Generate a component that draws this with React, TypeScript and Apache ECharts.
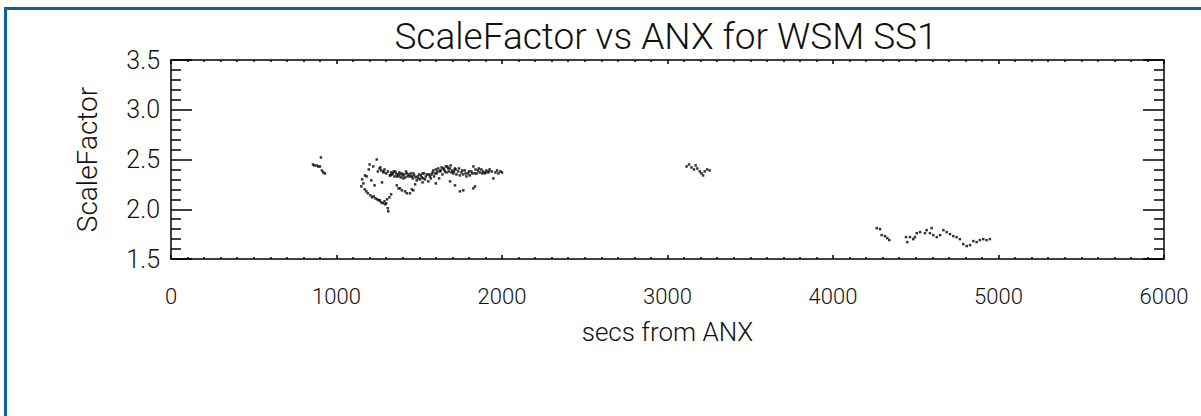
import React, { useEffect, useRef } from "react";
import * as echarts from "echarts";

const titleText = "ScaleFactor vs ANX for WSM SS1";
const xName = "secs from ANX";
const yName = "ScaleFactor";
const xTicks = [0, 1000, 2000, 3000, 4000, 5000, 6000];
const yTicks = [1.5, 2.0, 2.5, 3.0, 3.5];

const clusterA: number[][] = [
  [858, 2.45], [866, 2.44], [880, 2.44], [890, 2.43], [900, 2.43], [906, 2.52], [912, 2.39], [920, 2.37], [930, 2.36],
];

const clusterB: number[][] = [
  [1150, 2.23], [1155, 2.3], [1162, 2.26], [1170, 2.2], [1172, 2.34], [1180, 2.18], [1182, 2.33], [1190, 2.16],
  [1195, 2.4], [1200, 2.45], [1205, 2.14], [1210, 2.29], [1215, 2.12], [1222, 2.43], [1225, 2.13], [1230, 2.24],
  [1235, 2.11], [1243, 2.5], [1245, 2.1], [1250, 2.38], [1255, 2.09], [1260, 2.41], [1262, 2.09], [1270, 2.07],
  [1275, 2.27], [1280, 2.06], [1285, 2.37], [1290, 2.08], [1295, 2.05], [1300, 2.06], [1305, 2.1], [1310, 2.01],
  [1313, 1.98], [1320, 2.12], [1325, 2.34], [1330, 2.15],
  [1265, 2.42], [1270, 2.39], [1283, 2.38], [1290, 2.4], [1300, 2.36], [1310, 2.38], [1323, 2.34], [1330, 2.37],
  [1340, 2.36], [1350, 2.33], [1355, 2.38], [1364, 2.33], [1370, 2.35], [1380, 2.37], [1390, 2.32], [1395, 2.36],
  [1404, 2.31], [1410, 2.35], [1420, 2.38], [1430, 2.33], [1444, 2.33], [1450, 2.36], [1460, 2.31], [1470, 2.34],
  [1485, 2.29], [1490, 2.33], [1500, 2.35], [1505, 2.3], [1515, 2.32], [1525, 2.31], [1530, 2.36], [1540, 2.33],
  [1555, 2.28], [1560, 2.35], [1570, 2.31], [1580, 2.37], [1590, 2.33], [1600, 2.4], [1605, 2.36], [1615, 2.41],
  [1620, 2.31], [1625, 2.38], [1635, 2.42], [1640, 2.35], [1650, 2.4], [1660, 2.43], [1665, 2.37], [1675, 2.41],
  [1680, 2.38], [1690, 2.44], [1700, 2.39], [1706, 2.36], [1715, 2.41], [1725, 2.35], [1735, 2.38], [1745, 2.34],
  [1755, 2.37], [1765, 2.35], [1775, 2.39], [1785, 2.33], [1795, 2.36], [1805, 2.34], [1815, 2.38], [1827, 2.43],
  [1835, 2.36], [1847, 2.36], [1855, 2.39], [1865, 2.37], [1875, 2.4], [1885, 2.38], [1895, 2.36], [1905, 2.39],
  [1915, 2.37], [1925, 2.4], [1938, 2.38], [1948, 2.31], [1960, 2.37], [1970, 2.39], [1978, 2.36], [1990, 2.38],
  [2000, 2.37],
  [1364, 2.24], [1375, 2.21], [1384, 2.21], [1395, 2.19], [1414, 2.18], [1425, 2.16], [1444, 2.16], [1455, 2.2],
  [1464, 2.19], [1475, 2.25], [1686, 2.28], [1716, 2.24], [1746, 2.18], [1766, 2.19], [1827, 2.21], [1837, 2.23],
  [1520, 2.27], [1600, 2.26],
  [1335, 2.35], [1345, 2.38], [1360, 2.36], [1375, 2.33], [1385, 2.35], [1400, 2.34], [1415, 2.32], [1425, 2.36],
  [1437, 2.35], [1455, 2.33], [1465, 2.36], [1478, 2.32], [1495, 2.31], [1510, 2.34], [1520, 2.36], [1535, 2.3],
  [1548, 2.35], [1565, 2.33], [1575, 2.35], [1585, 2.39], [1595, 2.36], [1610, 2.38], [1630, 2.39], [1645, 2.41],
  [1655, 2.38], [1670, 2.43], [1685, 2.41], [1695, 2.37], [1710, 2.38], [1720, 2.4], [1740, 2.41], [1760, 2.39],
  [1780, 2.36], [1800, 2.38], [1820, 2.36], [1840, 2.4], [1860, 2.41], [1880, 2.36], [1900, 2.37], [1920, 2.38],
];

const clusterC: number[][] = [
  [3115, 2.43], [3130, 2.45], [3145, 2.42], [3160, 2.4], [3170, 2.44], [3180, 2.41], [3195, 2.38], [3205, 2.36],
  [3215, 2.34], [3225, 2.38], [3240, 2.4], [3255, 2.39],
];

const clusterD: number[][] = [
  [4264, 1.81], [4284, 1.8], [4294, 1.74], [4314, 1.73], [4328, 1.71], [4340, 1.69],
  [4441, 1.72], [4449, 1.67], [4465, 1.72], [4485, 1.7], [4495, 1.72],
  [4506, 1.76], [4526, 1.77], [4556, 1.76], [4566, 1.79], [4586, 1.76], [4596, 1.81],
  [4606, 1.74], [4627, 1.72], [4647, 1.74], [4667, 1.79], [4687, 1.77], [4707, 1.75], [4727, 1.73], [4747, 1.72],
  [4767, 1.7], [4787, 1.65], [4808, 1.63], [4828, 1.64], [4848, 1.68], [4868, 1.67], [4888, 1.69], [4908, 1.7],
  [4928, 1.69], [4948, 1.7],
];

const FONT = "Roboto";
const WEIGHT = 300;

export default function App() {
  const ref = useRef<HTMLDivElement>(null);
  useEffect(() => {
    if (!ref.current) return;
    const chart = echarts.init(ref.current, null, { renderer: "svg" });
    const line = { color: "#000", width: 1.5 };
    const axisCommonX = {
      type: "value" as const,
      min: xTicks[0],
      max: xTicks[xTicks.length - 1],
      interval: 1000,
      splitLine: { show: false },
      axisLine: { show: true, onZero: false, lineStyle: line },
      axisTick: { show: true, inside: true, length: 4, lineStyle: line },
      minorTick: { show: true, splitNumber: 10, length: 2, lineStyle: line },
    };
    const axisCommonY = {
      type: "value" as const,
      min: yTicks[0],
      max: yTicks[yTicks.length - 1],
      interval: 0.5,
      splitLine: { show: false },
      axisLine: { show: true, onZero: false, lineStyle: line },
      axisTick: { show: true, inside: true, length: 21, lineStyle: line },
      minorTick: { show: true, splitNumber: 5, length: 10, lineStyle: line },
    };
    chart.setOption({
      animation: false,
      backgroundColor: "#fff",
      title: {
        text: titleText,
        left: 661,
        top: 13,
        textAlign: "center",
        textStyle: { fontFamily: FONT, fontSize: 37, fontWeight: WEIGHT, color: "#111" },
      },
      grid: { left: 171, right: 37, top: 60, bottom: 157, containLabel: false },
      xAxis: [
        {
          ...axisCommonX,
          position: "bottom",
          name: xName,
          nameLocation: "middle",
          nameGap: 60,
          nameTextStyle: { fontFamily: FONT, fontSize: 26, fontWeight: WEIGHT, color: "#111" },
          axisLabel: {
            show: true,
            margin: 26,
            fontFamily: FONT,
            fontSize: 22,
            fontWeight: WEIGHT,
            color: "#111",
            formatter: (v: number) => String(v),
          },
        },
        { ...axisCommonX, position: "top", axisLabel: { show: false } },
      ],
      yAxis: [
        {
          ...axisCommonY,
          position: "left",
          name: yName,
          nameLocation: "middle",
          nameGap: 70,
          nameRotate: 90,
          nameTextStyle: { fontFamily: FONT, fontSize: 28, fontWeight: WEIGHT, color: "#111" },
          axisLabel: {
            show: true,
            margin: 11,
            fontFamily: FONT,
            fontSize: 25,
            fontWeight: WEIGHT,
            color: "#111",
            formatter: (v: number) => v.toFixed(1),
          },
        },
        { ...axisCommonY, position: "right", axisLabel: { show: false } },
      ],
      graphic: [
        {
          type: "rect",
          shape: { x: 5.5, y: 8.5, width: 1300, height: 500 },
          style: { fill: "none", stroke: "#0b64a0", lineWidth: 3 },
          silent: true,
        },
      ],
      series: [
        {
          type: "scatter",
          symbol: "rect",
          symbolSize: 2.5,
          itemStyle: { color: "#000" },
          data: [...clusterA, ...clusterB, ...clusterC, ...clusterD],
        },
      ],
    });
    return () => chart.dispose();
  }, []);
  return <div ref={ref} style={{ position: "absolute", left: 0, top: 0, width: 1201, height: 416 }} />;
}
